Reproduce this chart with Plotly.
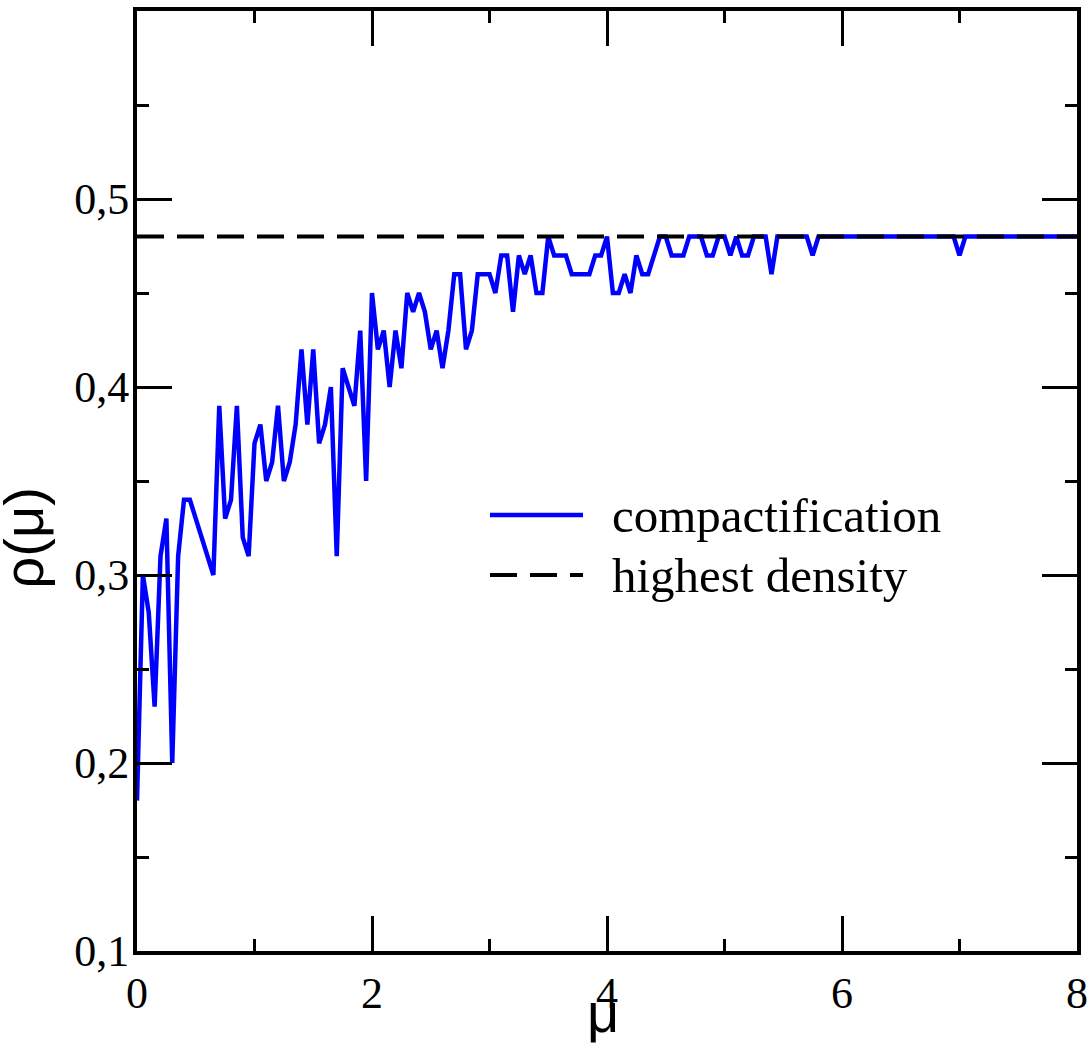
import plotly.graph_objects as go

# compactification density, sampled every 0.05 in mu from 0 to 8
mu_start = 0.0
mu_step = 0.05
rho = [
    0.18, 0.30, 0.28, 0.23, 0.31, 0.33, 0.20, 0.31, 0.34, 0.34,
    0.33, 0.32, 0.31, 0.30, 0.39, 0.33, 0.34, 0.39, 0.32, 0.31,
    0.37, 0.38, 0.35, 0.36, 0.39, 0.35, 0.36, 0.38, 0.42, 0.38,
    0.42, 0.37, 0.38, 0.40, 0.31, 0.41, 0.40, 0.39, 0.43, 0.35,
    0.45, 0.42, 0.43, 0.40, 0.43, 0.41, 0.45, 0.44, 0.45, 0.44,
    0.42, 0.43, 0.41, 0.43, 0.46, 0.46, 0.42, 0.43, 0.46, 0.46,
    0.46, 0.45, 0.47, 0.47, 0.44, 0.47, 0.46, 0.47, 0.45, 0.45,
    0.48, 0.47, 0.47, 0.47, 0.46, 0.46, 0.46, 0.46, 0.47, 0.47,
    0.48, 0.45, 0.45, 0.46, 0.45, 0.47, 0.46, 0.46, 0.47, 0.48,
    0.48, 0.47, 0.47, 0.47, 0.48, 0.48, 0.48, 0.47, 0.47, 0.48,
    0.48, 0.47, 0.48, 0.47, 0.47, 0.48, 0.48, 0.48, 0.46, 0.48,
    0.48, 0.48, 0.48, 0.48, 0.48, 0.47, 0.48, 0.48, 0.48, 0.48,
    0.48, 0.48, 0.48, 0.48, 0.48, 0.48, 0.48, 0.48, 0.48, 0.48,
    0.48, 0.48, 0.48, 0.48, 0.48, 0.48, 0.48, 0.48, 0.48, 0.48,
    0.47, 0.48, 0.48, 0.48, 0.48, 0.48, 0.48, 0.48, 0.48, 0.48,
    0.48, 0.48, 0.48, 0.48, 0.48, 0.48, 0.48, 0.48, 0.48, 0.48,
    0.48,
]
highest_x = [0, 8]
highest_rho = [0.48, 0.48]

x_ticks = [0, 2, 4, 6, 8]
y_ticks = [0.1, 0.2, 0.3, 0.4, 0.5]

serif = "Liberation Serif"
sans = "Liberation Sans"

fig = go.Figure()
fig.add_trace(go.Scatter(
    x0=mu_start, dx=mu_step, y=rho,
    mode="lines", line=dict(color="#0000ff", width=4.5),
    name="compactification", showlegend=False,
))
fig.add_trace(go.Scatter(
    x=highest_x, y=highest_rho,
    mode="lines", line=dict(color="black", width=4, dash="27px,13px"),
    name="highest density", showlegend=False,
))

# hand-made legend (long line samples like the original)
legend_items = [
    (0.4638, dict(color="#0000ff", width=4.5), "compactification"),
    (0.40, dict(color="black", width=4, dash="27px,13px"), "highest density"),
]
for ypos, ln, label in legend_items:
    fig.add_shape(type="line", xref="paper", yref="paper",
                  x0=0.3755, x1=0.4745, y0=ypos, y1=ypos, line=ln)
    fig.add_annotation(xref="paper", yref="paper", x=0.503, y=ypos,
                       xanchor="left", yanchor="middle", showarrow=False,
                       text=label, font=dict(family=serif, size=49, color="black"))

# axis titles
fig.add_annotation(xref="paper", yref="paper", x=-0.121, y=0.439,
                   xanchor="center", yanchor="middle", showarrow=False, textangle=-90,
                   borderpad=0,
                   text="ρ(μ)", font=dict(family=sans, size=56, color="black"))
fig.add_annotation(xref="paper", yref="paper", x=0.4957, y=-0.1005,
                   xanchor="center", yanchor="bottom", showarrow=False, borderpad=0,
                   text="μ", font=dict(family=sans, size=56, color="black"))

axis_common = dict(
    showline=True, linecolor="black", linewidth=4, mirror="allticks",
    ticks="inside", ticklen=35, tickwidth=3, tickcolor="black",
    showgrid=False, zeroline=False, automargin=False,
    tickfont=dict(family=serif, size=44, color="black"),
)

fig.update_xaxes(
    range=[0, 8], tickvals=x_ticks,
    minor=dict(ticks="inside", ticklen=12, tickwidth=3, tickcolor="black", dtick=1, tick0=0, showgrid=False),
    **axis_common,
)
fig.update_yaxes(
    range=[0.1, 0.6], tickvals=y_ticks, ticklabelstandoff=-5,
    minor=dict(ticks="inside", ticklen=12, tickwidth=3, tickcolor="black", dtick=0.05, tick0=0.1, showgrid=False),
    **axis_common,
)

fig.update_layout(
    width=1092, height=1046,
    margin=dict(l=137, r=15, t=11, b=95),
    plot_bgcolor="white", paper_bgcolor="white",
    separators=",.",
    showlegend=False,
)

# drop the default page margin and scrollbars so the figure fills the window
fig.write_html(
    "out.html",
    config={"displayModeBar": False},
    post_script="document.body.style.margin='0';document.body.style.overflow='hidden';",
)
